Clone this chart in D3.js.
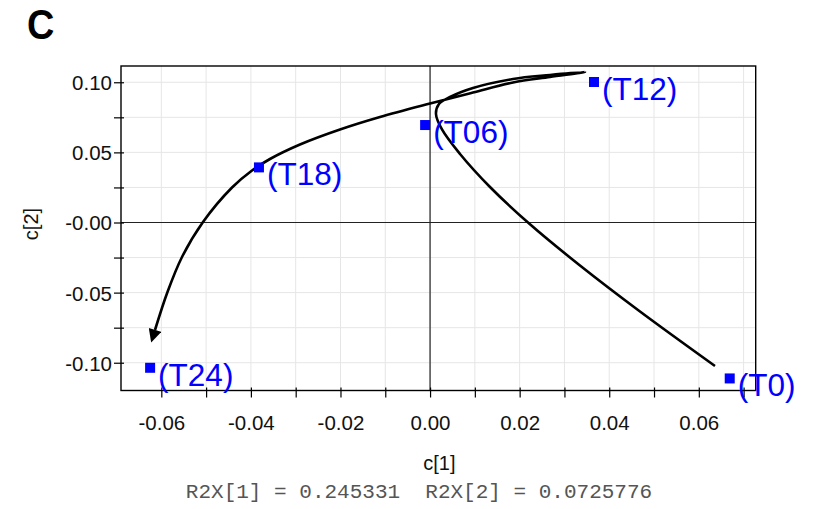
<!DOCTYPE html>
<html>
<head>
<meta charset="utf-8">
<script src="https://cdn.jsdelivr.net/npm/d3@7"></script>
<style>
  html, body { margin: 0; padding: 0; background: #fff; }
  svg { display: block; }
</style>
</head>
<body>
<svg id="chart" width="825" height="509"></svg>
<script>
// Score points per time point (c[1], c[2])
const timeLabels = ["(T0)", "(T06)", "(T12)", "(T18)", "(T24)"];
const c1Values = [0.0669, -0.0011, 0.0366, -0.0382, -0.0625];
const c2Values = [-0.1112, 0.0695, 0.1002, 0.0393, -0.1036];

// Smoothed time trajectory (T0 -> T24), drawn as an arrow
const trajC1 = [0.06361, 0.04687, 0.03347, 0.02231, 0.01338, 0.00669, 0.00266, 0.00132, 0.00199, 0.00445, 0.00958, 0.01852, 0.02678, 0.03460,
                0.02678, 0.01852, 0.00958, 0.00000, -0.01118, -0.02011, -0.02904, -0.03574, -0.03975, -0.04421, -0.05069, -0.05538, -0.05862, -0.06141];
const trajC2 = [-0.10233, -0.06347, -0.03066, -0.00128, 0.02532, 0.04885, 0.06632, 0.07737, 0.08450, 0.08950, 0.09591, 0.10233, 0.10519, 0.10732,
                0.10376, 0.09984, 0.09270, 0.08486, 0.07523, 0.06632, 0.05562, 0.04528, 0.03708, 0.02496, 0.00036, -0.02460, -0.04956, -0.07666];

// Axis ticks
const xMajorTicks = [-0.06, -0.04, -0.02, 0.00, 0.02, 0.04, 0.06];
const xTickLabels = ["-0.06", "-0.04", "-0.02", "0.00", "0.02", "0.04", "0.06"];
const xMinorTicks = [-0.06, -0.05, -0.04, -0.03, -0.02, -0.01, 0.00, 0.01, 0.02, 0.03, 0.04, 0.05, 0.06, 0.07];
const yMajorTicks = [-0.10, -0.05, 0.00, 0.05, 0.10];
const yTickLabels = ["-0.10", "-0.05", "-0.00", "0.05", "0.10"];
const yMinorTicks = [-0.10, -0.075, -0.05, -0.025, 0.00, 0.025, 0.05, 0.075, 0.10];

const svg = d3.select("#chart");
const plotLeft = 121, plotRight = 755.7, plotTop = 66, plotBottom = 390.5;

const x = d3.scaleLinear().domain([-0.0690, 0.0727]).range([plotLeft, plotRight]);
const y = d3.scaleLinear().domain([-0.1198, 0.1116]).range([plotBottom, plotTop]);

const tickFont = "'Liberation Sans', Arial, sans-serif";

// Panel letter
svg.append("text")
  .attr("transform", "translate(27,39) scale(0.88,1)")
  .attr("font-family", "'Liberation Sans', Arial, sans-serif")
  .attr("font-weight", "bold")
  .attr("font-size", 43)
  .attr("fill", "#000")
  .text("C");

// Grid
const grid = svg.append("g");
grid.selectAll("line.gx").data(xMinorTicks).join("line")
  .attr("x1", d => x(d)).attr("x2", d => x(d))
  .attr("y1", plotTop).attr("y2", plotBottom)
  .attr("stroke", "#e6e6e6").attr("stroke-width", 1);
grid.selectAll("line.gy").data(yMinorTicks).join("line")
  .attr("x1", plotLeft).attr("x2", plotRight)
  .attr("y1", d => y(d)).attr("y2", d => y(d))
  .attr("stroke", "#e6e6e6").attr("stroke-width", 1);

// Zero lines
svg.append("line")
  .attr("x1", x(0)).attr("x2", x(0)).attr("y1", plotTop).attr("y2", plotBottom)
  .attr("stroke", "#222").attr("stroke-width", 1.2);
svg.append("line")
  .attr("x1", plotLeft).attr("x2", plotRight).attr("y1", y(0)).attr("y2", y(0))
  .attr("stroke", "#222").attr("stroke-width", 1.2);

// Frame
svg.append("rect")
  .attr("x", plotLeft).attr("y", plotTop)
  .attr("width", plotRight - plotLeft).attr("height", plotBottom - plotTop)
  .attr("fill", "none").attr("stroke", "#000").attr("stroke-width", 1.4);

// X axis
const xAxis = svg.append("g")
  .attr("transform", `translate(0,${plotBottom})`)
  .call(d3.axisBottom(x).tickValues(xMinorTicks).tickSize(7).tickPadding(0)
    .tickFormat(d => {
      const i = xMajorTicks.findIndex(v => Math.abs(v - d) < 1e-9);
      return i >= 0 ? xTickLabels[i] : "";
    }));
xAxis.select(".domain").remove();
xAxis.selectAll(".tick line").attr("y1", -3).attr("stroke", "#000").attr("stroke-width", 1.2);
xAxis.selectAll(".tick text")
  .attr("y", 39.5).attr("dy", null)
  .attr("font-family", tickFont).attr("font-size", 20.5).attr("fill", "#111");

// Y axis
const yAxis = svg.append("g")
  .attr("transform", `translate(${plotLeft},0)`)
  .call(d3.axisLeft(y).tickValues(yMinorTicks).tickSize(7).tickPadding(0)
    .tickFormat(d => {
      const i = yMajorTicks.findIndex(v => Math.abs(v - d) < 1e-9);
      return i >= 0 ? yTickLabels[i] : "";
    }));
yAxis.select(".domain").remove();
yAxis.selectAll(".tick line").attr("x1", 3).attr("x2", -7).attr("stroke", "#000").attr("stroke-width", 1.2);
yAxis.selectAll(".tick text")
  .attr("x", -9).attr("dy", "0.36em")
  .attr("font-family", tickFont).attr("font-size", 20.5).attr("fill", "#111");

// Axis titles
svg.append("text")
  .attr("x", (plotLeft + plotRight) / 2 + 1).attr("y", 470)
  .attr("text-anchor", "middle")
  .attr("font-family", tickFont).attr("font-size", 20).attr("fill", "#111")
  .text("c[1]");
svg.append("text")
  .attr("transform", "translate(38,224) rotate(-90)")
  .attr("text-anchor", "middle")
  .attr("font-family", tickFont).attr("font-size", 20).attr("fill", "#111")
  .text("c[2]");
svg.append("text")
  .attr("x", 419).attr("y", 498)
  .attr("text-anchor", "middle")
  .attr("font-family", "'Liberation Mono', 'Courier New', monospace")
  .attr("font-size", 21).attr("fill", "#555")
  .style("white-space", "pre")
  .text("R2X[1] = 0.245331  R2X[2] = 0.0725776");

// Trajectory arrow
const defs = svg.append("defs");
defs.append("marker")
  .attr("id", "arrowhead")
  .attr("viewBox", "0 -5 10 10")
  .attr("refX", 0).attr("refY", 0)
  .attr("markerUnits", "userSpaceOnUse")
  .attr("markerWidth", 14).attr("markerHeight", 13)
  .attr("orient", "auto")
  .append("path")
  .attr("d", "M0,-5L10,0L0,5Z")
  .attr("fill", "#000");

const traj = trajC1.map((v, i) => [v, trajC2[i]]);
const line = d3.line()
  .x(d => x(d[0])).y(d => y(d[1]))
  .curve(d3.curveCatmullRom.alpha(0.5));
svg.append("path")
  .attr("d", line(traj))
  .attr("fill", "none")
  .attr("stroke", "#000")
  .attr("stroke-width", 2.6)
  .attr("stroke-linejoin", "round")
  .attr("marker-end", "url(#arrowhead)");

// Points and labels
const pts = timeLabels.map((t, i) => ({ t, c1: c1Values[i], c2: c2Values[i] }));
svg.selectAll("rect.pt").data(pts).join("rect")
  .attr("class", "pt")
  .attr("x", d => x(d.c1) - 5).attr("y", d => y(d.c2) - 5)
  .attr("width", 10).attr("height", 10)
  .attr("fill", "#0000ff");
svg.selectAll("text.lbl").data(pts).join("text")
  .attr("class", "lbl")
  .attr("x", d => x(d.c1) + 8).attr("y", d => y(d.c2) + 18)
  .attr("font-family", tickFont).attr("font-size", 31.5)
  .attr("fill", "#0000ff")
  .text(d => d.t);
</script>
</body>
</html>
